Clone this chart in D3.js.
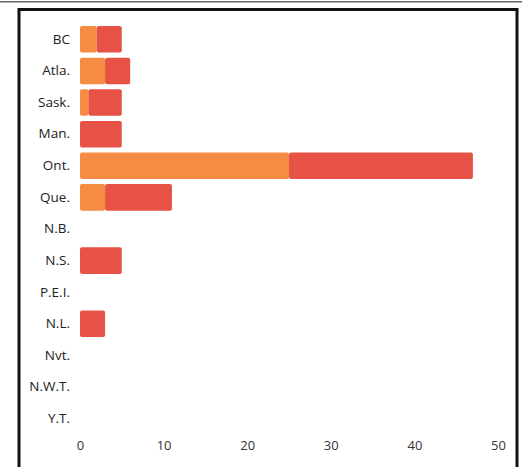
<!DOCTYPE html>
<html>
<head>
<meta charset="utf-8">
<script src="https://cdn.jsdelivr.net/npm/d3@7"></script>
<style>
  body { margin: 0; background: #fff; }
  .axis text { font-family: "Open Sans", sans-serif; fill: #222; }
</style>
</head>
<body>
<div class="chart-container"></div>
<script>
// data
const provinces = ['BC', 'Atla.', 'Sask.', 'Man.', 'Ont.', 'Que.', 'N.B.', 'N.S.', 'P.E.I.', 'N.L.', 'Nvt.', 'N.W.T.', 'Y.T.'];
const orangeValues = [2, 3, 1, 0, 25, 3, 0, 0, 0, 0, 0, 0, 0];
const redValues    = [3, 3, 4, 5, 22, 8, 0, 5, 0, 3, 0, 0, 0];
const xTicks = [0, 10, 20, 30, 40, 50];
const seriesKeys = ['orange', 'red'];
const colors = ['#f68b43', '#e65346'];

const width = 522, height = 467;

const rows = provinces.map((p, i) => ({province: p, orange: orangeValues[i], red: redValues[i]}));

const svg = d3.select('.chart-container').append('svg')
    .attr('width', width)
    .attr('height', height);

// thin line at the very top + frame
svg.append('rect').attr('x', 0).attr('y', 1).attr('width', width).attr('height', 1.5).attr('fill', '#666');
svg.append('path')
    .attr('d', 'M19,' + height + 'V9.5H517V' + height)
    .attr('fill', 'none')
    .attr('stroke', '#111')
    .attr('stroke-width', 3);

const x = d3.scaleLinear()
    .domain([0, 50])
    .range([80, 498]);

const y = d3.scaleBand()
    .domain(provinces)
    .range([21, 437])
    .padding(0.16);

const stacked = d3.stack().keys(seriesKeys)(rows);

// bars
svg.append('g').attr('id', 'bars')
  .selectAll('g')
  .data(stacked)
  .enter()
  .append('g')
    .attr('fill', (d, i) => colors[i])
  .selectAll('rect')
  .data(d => d.filter(s => s[1] - s[0] > 0))
  .enter()
  .append('rect')
    .attr('x', d => x(d[0]))
    .attr('y', d => y(d.data.province))
    .attr('width', d => x(d[1]) - x(d[0]))
    .attr('height', y.bandwidth())
    .attr('rx', 2);

// y-axis
const yAxis = svg.append('g')
    .attr('class', 'axis')
    .attr('transform', 'translate(80,0)')
    .call(d3.axisLeft(y).tickSize(0).tickPadding(10));
yAxis.select('.domain').remove();
yAxis.selectAll('text').style('font-size', '13.5px');

// x-axis
const xAxis = svg.append('g')
    .attr('class', 'axis')
    .attr('transform', 'translate(0,433)')
    .call(d3.axisBottom(x).tickValues(xTicks).tickSize(0).tickPadding(8));
xAxis.select('.domain').remove();
xAxis.selectAll('text').style('font-size', '13px').style('fill', '#333');
</script>
</body>
</html>
